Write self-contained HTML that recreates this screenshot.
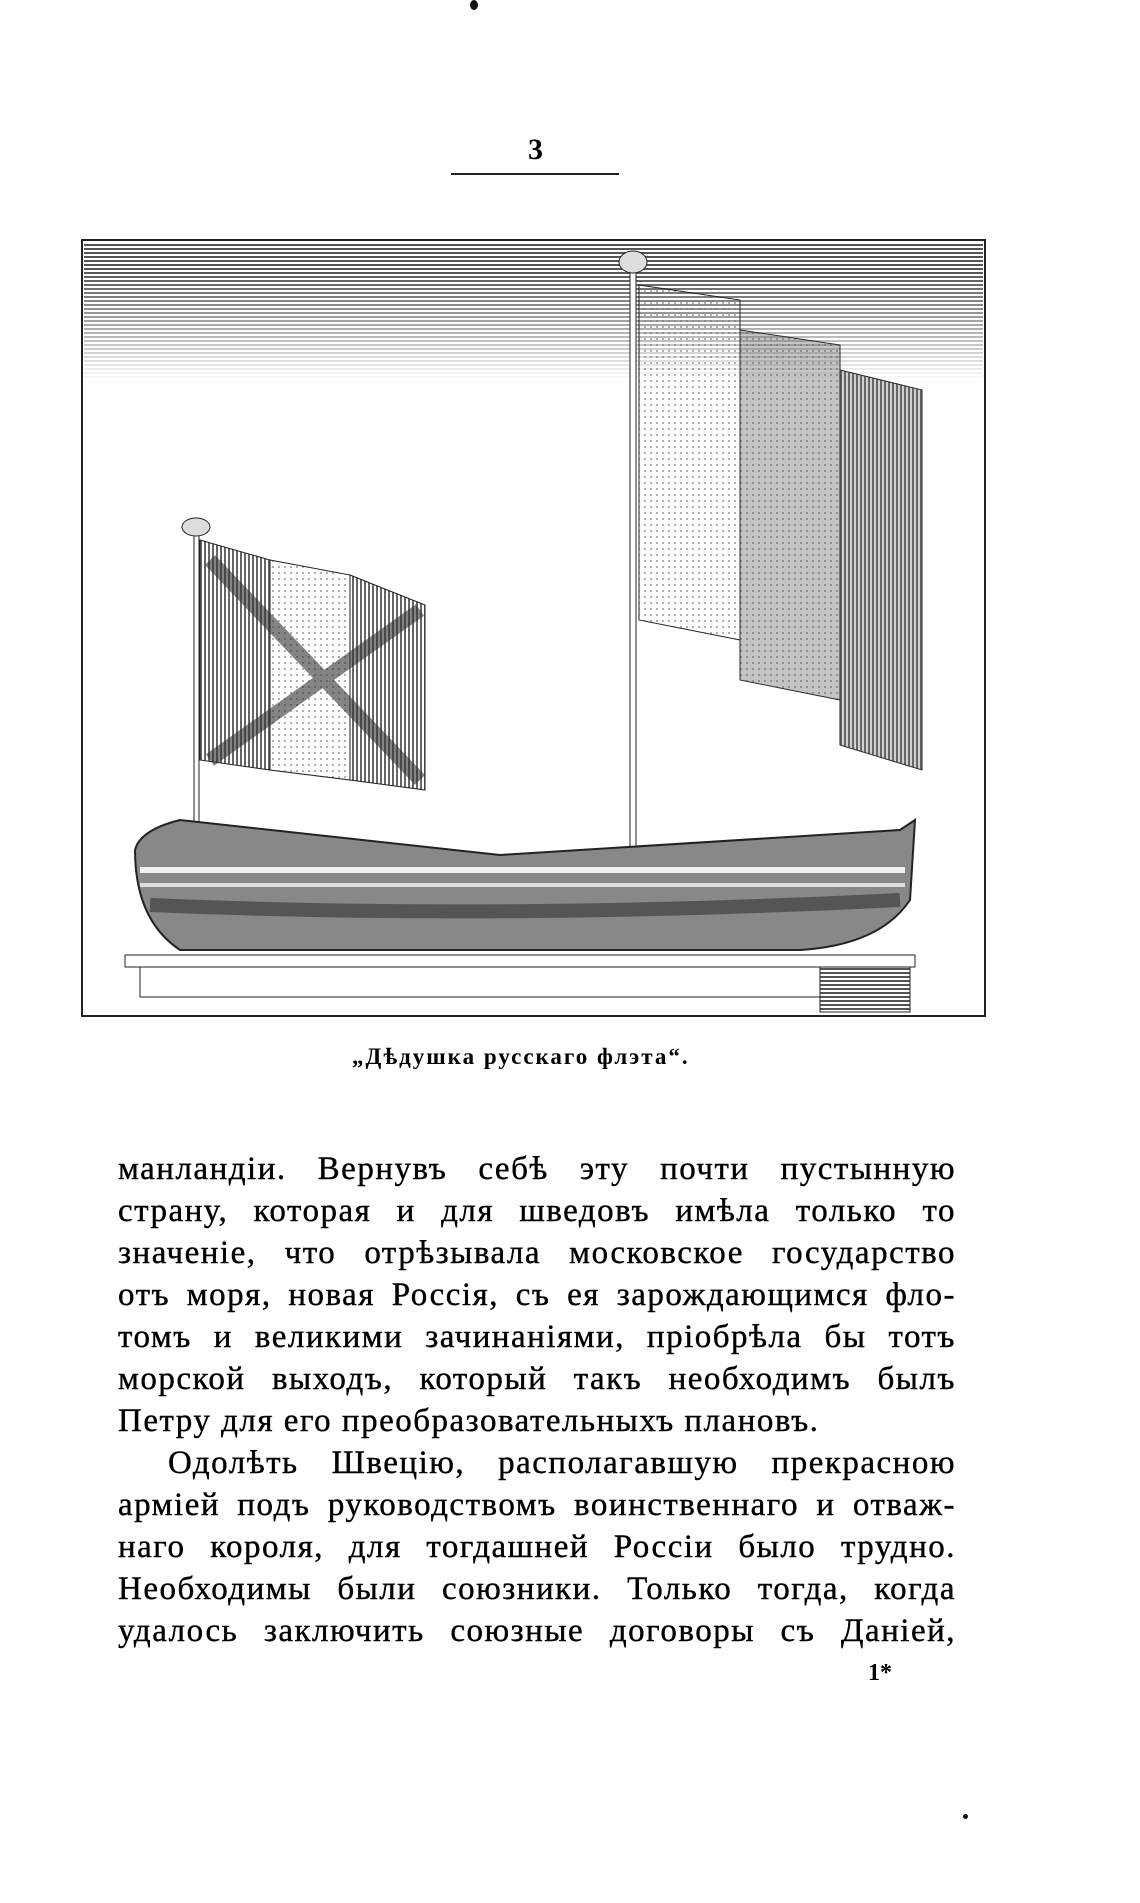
<!DOCTYPE html>
<html><head><meta charset="utf-8"><style>
html,body{margin:0;padding:0;background:#fff;}
body{width:1140px;height:1903px;position:relative;overflow:hidden;font-family:"Liberation Serif","DejaVu Serif",serif;color:#000;}
.abs{position:absolute;}
.ln{position:absolute;left:118px;width:838px;font-size:33px;letter-spacing:1.5px;line-height:42px;text-align:justify;text-align-last:justify;white-space:nowrap;-webkit-text-stroke:0.4px #000;}
.ln.l{text-align-last:left;}
</style></head><body>
<div class="abs" style="left:470px;top:0;width:8px;height:10px;background:#111;border-radius:50%"></div>
<div class="abs" style="left:528px;top:133px;font-size:30px;font-weight:bold">3</div>
<div class="abs" style="left:451px;top:173px;width:168px;height:2px;background:#222"></div>
<svg class="abs" style="left:0;top:0" width="1140" height="1100">
<defs>
<pattern id="h" width="4" height="4" patternUnits="userSpaceOnUse"><rect width="4" height="2" fill="#555"/></pattern>
<pattern id="v" width="4" height="4" patternUnits="userSpaceOnUse"><rect width="2" height="4" fill="#666"/></pattern>
<pattern id="d" width="6" height="6" patternUnits="userSpaceOnUse"><circle cx="3" cy="3" r="0.9" fill="#777"/></pattern>
<linearGradient id="sky" x1="0" y1="0" x2="0" y2="1"><stop offset="0" stop-color="#fff" stop-opacity="0"/><stop offset="1" stop-color="#fff" stop-opacity="1"/></linearGradient>
</defs>
<rect x="82" y="240" width="903" height="776" fill="none" stroke="#222" stroke-width="2"/>
<rect x="84" y="242" width="899" height="140" fill="url(#h)"/>
<rect x="84" y="270" width="899" height="112" fill="url(#sky)"/>
<!-- left flag -->
<rect x="194" y="528" width="5" height="300" fill="#fff" stroke="#222"/>
<ellipse cx="196" cy="527" rx="14" ry="9" fill="#ddd" stroke="#222"/>
<path d="M200 540 L270 560 L270 770 L200 760 Z" fill="url(#v)" stroke="#222"/>
<path d="M270 560 L350 575 L350 780 L270 770 Z" fill="url(#d)" stroke="#222"/>
<path d="M350 575 L425 605 L425 790 L350 780 Z" fill="url(#v)" stroke="#222"/>
<path d="M210 560 L420 780 M210 760 L420 610" stroke="#333" stroke-width="14" opacity=".6"/>
<!-- right flag -->
<rect x="630" y="261" width="6" height="590" fill="#fff" stroke="#222"/>
<ellipse cx="633" cy="262" rx="14" ry="11" fill="#ddd" stroke="#222"/>
<path d="M639 285 L740 300 L740 640 L639 620 Z" fill="url(#d)" stroke="#222"/>
<path d="M740 330 L840 345 L840 700 L740 680 Z" fill="url(#d)" stroke="#222"/>
<path d="M740 330 L840 345 L840 700 L740 680 Z" fill="#555" opacity=".35"/>
<path d="M840 370 L922 390 L922 770 L840 745 Z" fill="url(#v)" stroke="#222"/>
<path d="M840 370 L922 390 L922 770 L840 745 Z" fill="#666" opacity=".3"/>
<!-- hull -->
<path d="M135 850 Q140 830 180 820 L500 855 L900 830 L915 820 L910 900 Q880 945 800 950 L180 950 Q135 920 135 850 Z" fill="#888" stroke="#222" stroke-width="2"/>
<path d="M140 870 L905 870" stroke="#eee" stroke-width="6"/>
<path d="M140 885 L905 885" stroke="#ddd" stroke-width="4"/>
<path d="M150 905 Q500 920 900 900" stroke="#555" stroke-width="14" fill="none"/>
<rect x="125" y="955" width="790" height="12" fill="#fff" stroke="#222"/>
<rect x="140" y="967" width="680" height="30" fill="#fff" stroke="#222"/>
<rect x="820" y="967" width="90" height="45" fill="url(#h)" stroke="#222"/>
</svg>
<div class="abs" style="left:352px;top:1044px;font-size:23px;font-weight:bold;letter-spacing:2px">„Дѣдушка русскаго флэта“.</div>
<div class="ln" style="top:1148px">манландіи. Вернувъ себѣ эту почти пустынную</div>
<div class="ln" style="top:1190px">страну, которая и для шведовъ имѣла только то</div>
<div class="ln" style="top:1232px">значеніе, что отрѣзывала московское государство</div>
<div class="ln" style="top:1274px">отъ моря, новая Россія, съ ея зарождающимся фло-</div>
<div class="ln" style="top:1316px">томъ и великими зачинаніями, пріобрѣла бы тотъ</div>
<div class="ln" style="top:1358px">морской выходъ, который такъ необходимъ былъ</div>
<div class="ln l" style="top:1400px">Петру для его преобразовательныхъ плановъ.</div>
<div class="ln" style="top:1442px;left:168px;width:788px">Одолѣть Швецію, располагавшую прекрасною</div>
<div class="ln" style="top:1484px">арміей подъ руководствомъ воинственнаго и отваж-</div>
<div class="ln" style="top:1526px">наго короля, для тогдашней Россіи было трудно.</div>
<div class="ln" style="top:1568px">Необходимы были союзники. Только тогда, когда</div>
<div class="ln" style="top:1610px">удалось заключить союзные договоры съ Даніей,</div>
<div class="abs" style="left:868px;top:1660px;font-size:24px;font-weight:bold">1*</div>
<div class="abs" style="left:963px;top:1814px;width:5px;height:5px;background:#111;border-radius:50%"></div>
</body></html>
